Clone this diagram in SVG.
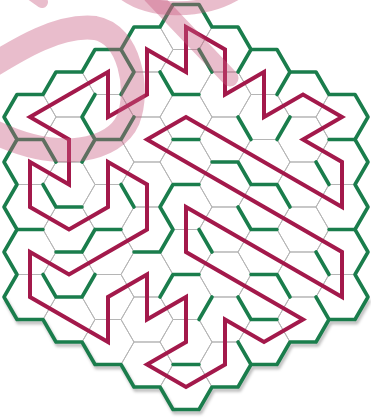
<svg xmlns="http://www.w3.org/2000/svg" xmlns:xlink="http://www.w3.org/1999/xlink" width="371" height="419" viewBox="0 0 371 419">
<defs>
<style>
.grid{fill:none;stroke:#b5b5b5;stroke-width:1}
.wall{fill:none;stroke:#1a7d4c;stroke-width:3.6;stroke-linecap:round;stroke-linejoin:round}
.route{fill:none;stroke:#a3194b;stroke-width:4;stroke-linejoin:miter;stroke-miterlimit:4}
.ink{fill:none;stroke:#c85a80;stroke-opacity:0.4;stroke-linecap:round}
.shade{fill:none;stroke:#000;stroke-opacity:0.28;stroke-width:3.6;stroke-linejoin:round}
</style>
<filter id="blur" x="-10%" y="-10%" width="120%" height="120%"><feGaussianBlur stdDeviation="1.6"/></filter>
<polygon id="hx" points="-26,0 -13,-22.5 13,-22.5 26,0 13,22.5 -13,22.5"/>
</defs>
<rect width="371" height="419" fill="#ffffff"/>
<g id="grid" class="grid">
<use xlink:href="#hx" x="30" y="117"/><use xlink:href="#hx" x="30" y="162"/><use xlink:href="#hx" x="30" y="207"/><use xlink:href="#hx" x="30" y="252"/><use xlink:href="#hx" x="30" y="297"/>
<use xlink:href="#hx" x="69" y="94.5"/><use xlink:href="#hx" x="69" y="139.5"/><use xlink:href="#hx" x="69" y="184.5"/><use xlink:href="#hx" x="69" y="229.5"/><use xlink:href="#hx" x="69" y="274.5"/><use xlink:href="#hx" x="69" y="319.5"/>
<use xlink:href="#hx" x="108" y="72"/><use xlink:href="#hx" x="108" y="117"/><use xlink:href="#hx" x="108" y="162"/><use xlink:href="#hx" x="108" y="207"/><use xlink:href="#hx" x="108" y="252"/><use xlink:href="#hx" x="108" y="297"/><use xlink:href="#hx" x="108" y="342"/>
<use xlink:href="#hx" x="147" y="49.5"/><use xlink:href="#hx" x="147" y="94.5"/><use xlink:href="#hx" x="147" y="139.5"/><use xlink:href="#hx" x="147" y="184.5"/><use xlink:href="#hx" x="147" y="229.5"/><use xlink:href="#hx" x="147" y="274.5"/><use xlink:href="#hx" x="147" y="319.5"/><use xlink:href="#hx" x="147" y="364.5"/>
<use xlink:href="#hx" x="186" y="27"/><use xlink:href="#hx" x="186" y="72"/><use xlink:href="#hx" x="186" y="117"/><use xlink:href="#hx" x="186" y="162"/><use xlink:href="#hx" x="186" y="207"/><use xlink:href="#hx" x="186" y="252"/><use xlink:href="#hx" x="186" y="297"/><use xlink:href="#hx" x="186" y="342"/><use xlink:href="#hx" x="186" y="387"/>
<use xlink:href="#hx" x="225" y="49.5"/><use xlink:href="#hx" x="225" y="94.5"/><use xlink:href="#hx" x="225" y="139.5"/><use xlink:href="#hx" x="225" y="184.5"/><use xlink:href="#hx" x="225" y="229.5"/><use xlink:href="#hx" x="225" y="274.5"/><use xlink:href="#hx" x="225" y="319.5"/><use xlink:href="#hx" x="225" y="364.5"/>
<use xlink:href="#hx" x="264" y="72"/><use xlink:href="#hx" x="264" y="117"/><use xlink:href="#hx" x="264" y="162"/><use xlink:href="#hx" x="264" y="207"/><use xlink:href="#hx" x="264" y="252"/><use xlink:href="#hx" x="264" y="297"/><use xlink:href="#hx" x="264" y="342"/>
<use xlink:href="#hx" x="303" y="94.5"/><use xlink:href="#hx" x="303" y="139.5"/><use xlink:href="#hx" x="303" y="184.5"/><use xlink:href="#hx" x="303" y="229.5"/><use xlink:href="#hx" x="303" y="274.5"/><use xlink:href="#hx" x="303" y="319.5"/>
<use xlink:href="#hx" x="342" y="117"/><use xlink:href="#hx" x="342" y="162"/><use xlink:href="#hx" x="342" y="207"/><use xlink:href="#hx" x="342" y="252"/><use xlink:href="#hx" x="342" y="297"/>
</g>
<path id="shadow" class="shade" filter="url(#blur)" transform="translate(1.5,3)" d="M4,297L17,319.5L43,319.5L56,342L82,342L95,364.5L121,364.5L134,387L160,387L173,409.5L199,409.5L212,387L238,387L251,364.5L277,364.5L290,342L316,342L329,319.5L355,319.5L368,297"/>
<g id="walls" class="wall">
<polygon id="outline" points="173,4.5 199,4.5 212,27 238,27 251,49.5 277,49.5 290,72 316,72 329,94.5 355,94.5 368,117 355,139.5 368,162 355,184.5 368,207 355,229.5 368,252 355,274.5 368,297 355,319.5 329,319.5 316,342 290,342 277,364.5 251,364.5 238,387 212,387 199,409.5 173,409.5 160,387 134,387 121,364.5 95,364.5 82,342 56,342 43,319.5 17,319.5 4,297 17,274.5 4,252 17,229.5 4,207 17,184.5 4,162 17,139.5 4,117 17,94.5 43,94.5 56,72 82,72 95,49.5 121,49.5 134,27 160,27"/>
<path d="M199,49.5L212,72 M121,49.5L134,72L121,94.5 M95,94.5L82,117L95,139.5 M160,72L173,94.5L199,94.5 M251,49.5L238,72 M290,72L277,94.5 M238,117L251,139.5 M290,117L277,139.5 M17,139.5L43,139.5L56,162 M82,162L95,139.5L121,139.5L134,117 M43,184.5L56,207L82,207 M121,184.5L134,207 M160,207L173,184.5L199,184.5 M160,207L173,229.5L160,252L134,252 M95,229.5L121,229.5 M82,252L95,229.5 M56,252L82,252 M17,229.5L43,229.5 M173,139.5L199,139.5 M212,162L238,162L251,184.5L277,184.5L290,207 M316,162L329,184.5 M329,139.5L355,139.5 M329,229.5L355,229.5 M316,252L329,274.5 M238,207L251,229.5L277,229.5 M199,229.5L212,252 M251,274.5L277,274.5L290,297 M43,274.5L56,297L82,297L95,274.5 M160,297L173,274.5L199,274.5 M173,364.5L199,364.5 M212,297L199,319.5 M238,297L251,319.5L277,319.5 M316,297L329,319.5 M238,342L251,364.5"/>
</g>
<g id="connectors">
<polygon class="route" points="108,72 108,117 147,94.5 147,49.5 186,72 186,27 225,49.5 225,94.5 264,72 264,117 303,94.5 342,117 303,139.5 342,162 342,207 186,117 147,139.5 342,252 342,297 186,207 186,252 303,319.5 264,342 225,319.5 225,364.5 186,387 147,364.5 186,342 186,297 147,319.5 147,274.5 108,297 108,342 30,297 30,252 69,274.5 147,229.5 147,184.5 108,162 108,207 69,229.5 30,207 30,162 69,184.5 69,139.5 30,117"/>
</g>
<g id="overlay" class="ink">
<path d="M-15,70 C20,48 60,24 95,28 C130,34 140,90 128,120 C115,150 60,165 -10,130" stroke-width="24"/>
<path d="M125,-6 C150,12 200,14 235,-6" stroke-width="14"/>
<path d="M152,-4 L230,78" stroke-width="17"/>
<path d="M22,-12 L42,2" stroke-width="12"/>
</g>
</svg>
